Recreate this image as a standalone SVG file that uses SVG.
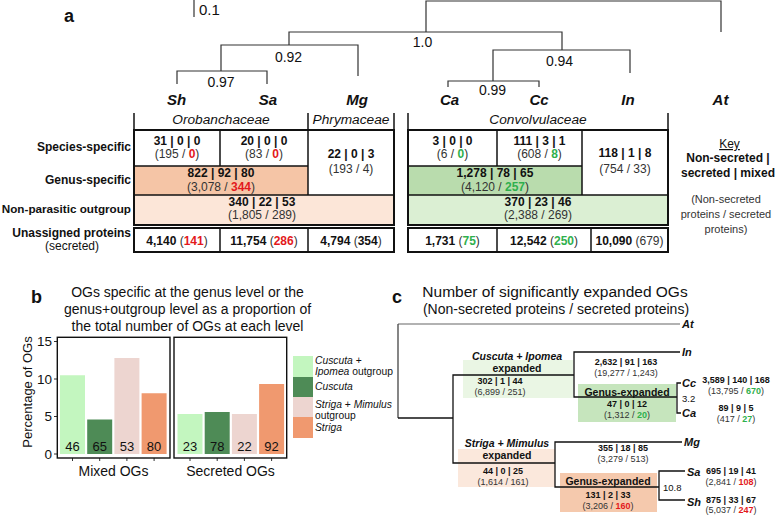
<svg xmlns="http://www.w3.org/2000/svg" width="778" height="515" viewBox="0 0 778 515">
<style>
text{font-family:"Liberation Sans",Arial,Helvetica,sans-serif;fill:#111}
.b{font-weight:bold}
.i{font-style:italic}
.n{font-weight:normal;font-style:normal}
.m{text-anchor:middle}
.e{text-anchor:end}
.red{fill:#e3191c;font-weight:bold}
.grn{fill:#2fb04d;font-weight:bold}
.gry{fill:#333}
.tree{stroke:#333;stroke-width:1.2;fill:none}
.ctree{stroke:#111;stroke-width:1.3;fill:none}
.tb{stroke:#111;stroke-width:2;fill:none}
.tl{stroke:#111;stroke-width:1.5;fill:none}
.lab{font-size:12px}
.cell{font-size:12px}
.sp{font-size:15px;font-weight:bold;font-style:italic}
.fam{font-size:13.7px;font-style:italic}
.bl{font-size:14px}
.cn{font-size:9px}
.cl{font-size:11px;font-weight:bold;font-style:italic}
.ch{font-size:10.5px;font-weight:bold}
.leg{font-size:10.3px}
.ax{stroke:#333;stroke-width:1;fill:none}
</style>

<!-- Panel letters -->
<text x="64" y="22" class="b" font-size="18">a</text>
<text x="31" y="303" class="b" font-size="18">b</text>
<text x="392" y="303" class="b" font-size="18">c</text>

<!-- ===== Panel a: tree ===== -->
<g id="scale-bar">
<line x1="194" y1="0" x2="194" y2="17" class="tree"/>
<text x="199" y="15" font-size="15">0.1</text>
</g>
<g id="tree-a-connectors" class="tree">
<path d="M426,32 V1 H721 V32"/>
<path d="M289,45 V32 H562 V50"/>
<path d="M221,71 V45 H358 V76"/>
<path d="M177,84 V71 H267 V84"/>
<path d="M493,81 V50 H630 V73"/>
<path d="M448,87 V81 H539 V87"/>
</g>
<g id="tree-a-support" class="bl">
<text x="422.5" y="46.5" class="m">1.0</text>
<text x="288.5" y="61.5" class="m">0.92</text>
<text x="221" y="87" class="m">0.97</text>
<text x="559.5" y="65.5" class="m">0.94</text>
<text x="492.5" y="94.5" class="m">0.99</text>
</g>
<g id="species-a">
<text x="176.5" y="105" class="sp m">Sh</text>
<text x="268" y="105" class="sp m">Sa</text>
<text x="357" y="105" class="sp m">Mg</text>
<text x="449.5" y="105" class="sp m">Ca</text>
<text x="539" y="105" class="sp m">Cc</text>
<text x="628" y="105" class="sp m">In</text>
<text x="720.5" y="105" class="sp m">At</text>
</g>
<g id="families">
<g class="tl">
<line x1="134" y1="113" x2="134" y2="130"/>
<line x1="308" y1="113" x2="308" y2="130"/>
<line x1="394" y1="113" x2="394" y2="130"/>
<line x1="408" y1="113" x2="408" y2="130"/>
<line x1="668" y1="113" x2="668" y2="130"/>
</g>
<text x="221" y="124" class="fam m">Orobanchaceae</text>
<text x="351" y="124" class="fam m" font-size="13.3">Phrymaceae</text>
<text x="538" y="124" class="fam m">Convolvulaceae</text>
</g>

<!-- Row labels -->
<g id="row-labels" class="lab b">
<text x="131" y="151" class="e">Species-specific</text>
<text x="131" y="184" class="e">Genus-specific</text>
<text x="131" y="213" class="e" font-size="11.7">Non-parasitic outgroup</text>
<text x="131" y="237" class="e">Unassigned proteins</text>
<text x="72" y="250" class="m n">(secreted)</text>
</g>

<!-- Left table -->
<g id="table-left">
<rect x="134" y="166" width="174" height="29" fill="#f5c5a6"/>
<rect x="134" y="195" width="260" height="30" fill="#fce6d8"/>
<rect x="134" y="130" width="260" height="95" class="tb"/>
<g class="tl">
<line x1="220" y1="130" x2="220" y2="166"/>
<line x1="134" y1="166" x2="308" y2="166"/>
<line x1="308" y1="130" x2="308" y2="195"/>
<line x1="134" y1="195" x2="394" y2="195"/>
</g>
<rect x="134" y="228" width="260" height="24" class="tb"/>
<g class="tl">
<line x1="220" y1="228" x2="220" y2="252"/>
<line x1="308" y1="228" x2="308" y2="252"/>
</g>
</g>
<g id="cell-sh" class="cell">
<text x="177" y="145" class="m b">31 | 0 | 0</text>
<text x="177" y="158" class="m gry">(195 / <tspan class="red">0</tspan>)</text>
</g>
<g id="cell-sa" class="cell">
<text x="264" y="145" class="m b">20 | 0 | 0</text>
<text x="264" y="158" class="m gry">(83 / <tspan class="red">0</tspan>)</text>
</g>
<g id="cell-mg" class="cell">
<text x="351" y="158" class="m b">22 | 0 | 3</text>
<text x="351" y="173" class="m gry">(193 / 4)</text>
</g>
<g id="cell-striga-genus" class="cell">
<text x="221" y="177" class="m b">822 | 92 | 80</text>
<text x="221" y="191" class="m gry">(3,078 / <tspan class="red">344</tspan>)</text>
</g>
<g id="cell-oro-outgroup" class="cell">
<text x="262" y="206" class="m b">340 | 22 | 53</text>
<text x="262" y="219" class="m gry">(1,805 / 289)</text>
</g>
<g id="unassigned-left" class="cell">
<text x="177" y="245" class="m"><tspan class="b">4,140</tspan><tspan class="gry"> (</tspan><tspan class="red">141</tspan><tspan class="gry">)</tspan></text>
<text x="264" y="245" class="m"><tspan class="b">11,754</tspan><tspan class="gry"> (</tspan><tspan class="red">286</tspan><tspan class="gry">)</tspan></text>
<text x="351" y="245" class="m"><tspan class="b">4,794</tspan><tspan class="gry"> (</tspan><tspan class="b">354</tspan><tspan class="gry">)</tspan></text>
</g>

<!-- Right table -->
<g id="table-right">
<rect x="408" y="166" width="174" height="29" fill="#b9dcad"/>
<rect x="408" y="195" width="260" height="30" fill="#dbefd3"/>
<rect x="408" y="130" width="260" height="95" class="tb"/>
<g class="tl">
<line x1="497" y1="130" x2="497" y2="166"/>
<line x1="408" y1="166" x2="582" y2="166"/>
<line x1="582" y1="130" x2="582" y2="195"/>
<line x1="408" y1="195" x2="668" y2="195"/>
</g>
<rect x="408" y="228" width="260" height="24" class="tb"/>
<g class="tl">
<line x1="497" y1="228" x2="497" y2="252"/>
<line x1="591" y1="228" x2="591" y2="252"/>
</g>
</g>
<g id="cell-ca" class="cell">
<text x="452.5" y="145" class="m b">3 | 0 | 0</text>
<text x="452.5" y="158" class="m gry">(6 / <tspan class="grn">0</tspan>)</text>
</g>
<g id="cell-cc" class="cell">
<text x="539.5" y="145" class="m b">111 | 3 | 1</text>
<text x="539.5" y="158" class="m gry">(608 / <tspan class="grn">8</tspan>)</text>
</g>
<g id="cell-in" class="cell">
<text x="625" y="157" class="m b">118 | 1 | 8</text>
<text x="625" y="173" class="m gry">(754 / 33)</text>
</g>
<g id="cell-cuscuta-genus" class="cell">
<text x="495" y="177" class="m b">1,278 | 78 | 65</text>
<text x="495" y="191" class="m gry">(4,120 / <tspan class="grn">257</tspan>)</text>
</g>
<g id="cell-conv-outgroup" class="cell">
<text x="538" y="206" class="m b">370 | 23 | 46</text>
<text x="538" y="219" class="m gry">(2,388 / 269)</text>
</g>
<g id="unassigned-right" class="cell">
<text x="452.5" y="245" class="m"><tspan class="b">1,731</tspan><tspan class="gry"> (</tspan><tspan class="grn">75</tspan><tspan class="gry">)</tspan></text>
<text x="544" y="245" class="m"><tspan class="b">12,542</tspan><tspan class="gry"> (</tspan><tspan class="grn">250</tspan><tspan class="gry">)</tspan></text>
<text x="629.5" y="245" class="m"><tspan class="b">10,090</tspan><tspan class="gry"> (679)</tspan></text>
</g>

<!-- Key -->
<g id="key">
<text x="729.5" y="148" class="m" font-size="12" text-decoration="underline">Key</text>
<text x="728" y="162" class="m b" font-size="12">Non-secreted |</text>
<text x="728" y="177" class="m b" font-size="12">secreted | mixed</text>
<text x="726" y="203" class="m gry" font-size="11">(Non-secreted</text>
<text x="726" y="218" class="m gry" font-size="11">proteins / secreted</text>
<text x="726" y="233" class="m gry" font-size="11">proteins)</text>
</g>

<!-- ===== Panel b ===== -->
<g id="b-title" class="bl">
<text x="187.5" y="297" class="m">OGs specific at the genus level or the</text>
<text x="187.5" y="314" class="m">genus+outgroup level as a proportion of</text>
<text x="187.5" y="331" class="m">the total number of OGs at each level</text>
</g>
<g id="b-axes">
<text transform="translate(32,392) rotate(-90)" class="m" font-size="13">Percentage of OGs</text>
<g font-size="13.5">
<text x="52" y="346" class="e">15</text>
<text x="52" y="383.5" class="e">10</text>
<text x="52" y="421" class="e">5</text>
<text x="52" y="458.5" class="e">0</text>
</g>
<g class="ax">
<line x1="54" y1="341.5" x2="57" y2="341.5"/>
<line x1="54" y1="379" x2="57" y2="379"/>
<line x1="54" y1="416.5" x2="57" y2="416.5"/>
<line x1="54" y1="454" x2="57" y2="454"/>
<line x1="72.5" y1="458" x2="72.5" y2="461"/>
<line x1="99.7" y1="458" x2="99.7" y2="461"/>
<line x1="126.9" y1="458" x2="126.9" y2="461"/>
<line x1="154.1" y1="458" x2="154.1" y2="461"/>
<line x1="190" y1="458" x2="190" y2="461"/>
<line x1="217.2" y1="458" x2="217.2" y2="461"/>
<line x1="244.4" y1="458" x2="244.4" y2="461"/>
<line x1="271.6" y1="458" x2="271.6" y2="461"/>
</g>
<text x="113.5" y="476" class="m" font-size="14">Mixed OGs</text>
<text x="230.5" y="476" class="m" font-size="14">Secreted OGs</text>
</g>
<g id="b-bars-mixed">
<rect x="60" y="375.25" width="25" height="78.75" fill="#c3f6bf"/>
<rect x="87.2" y="419.5" width="25" height="34.5" fill="#4e8b56"/>
<rect x="114.4" y="358" width="25" height="96" fill="#edd5d0"/>
<rect x="141.6" y="393.25" width="25" height="60.75" fill="#f0996f"/>
<g font-size="13">
<text x="72.5" y="451" class="m">46</text>
<text x="99.7" y="451" class="m">65</text>
<text x="126.9" y="451" class="m">53</text>
<text x="154.1" y="451" class="m">80</text>
</g>
<rect x="57.3" y="337.3" width="112.7" height="120.7" fill="none" stroke="#111" stroke-width="1.4"/>
</g>
<g id="b-bars-secreted">
<rect x="177.5" y="414" width="25" height="40" fill="#c3f6bf"/>
<rect x="204.7" y="412" width="25" height="42" fill="#4e8b56"/>
<rect x="231.9" y="414" width="25" height="40" fill="#edd5d0"/>
<rect x="259.1" y="384" width="25" height="70" fill="#f0996f"/>
<g font-size="13">
<text x="190" y="451" class="m">23</text>
<text x="217.2" y="451" class="m">78</text>
<text x="244.4" y="451" class="m">22</text>
<text x="271.6" y="451" class="m">92</text>
</g>
<rect x="174" y="337.3" width="112.7" height="120.7" fill="none" stroke="#111" stroke-width="1.4"/>
</g>
<g id="b-legend" class="leg">
<rect x="293" y="356" width="20" height="21" fill="#c3f6bf"/>
<rect x="293" y="377" width="20" height="20" fill="#4e8b56"/>
<rect x="293" y="397" width="20" height="20" fill="#edd5d0"/>
<rect x="293" y="417" width="20" height="21" fill="#f0996f"/>
<text x="315" y="363.5"><tspan class="i">Cuscuta</tspan> +</text>
<text x="315" y="375"><tspan class="i">Ipomea</tspan> outgroup</text>
<text x="315" y="390" class="i">Cuscuta</text>
<text x="315" y="407.5"><tspan class="i">Striga</tspan> + <tspan class="i">Mimulus</tspan></text>
<text x="315" y="419">outgroup</text>
<text x="315" y="431" class="i">Striga</text>
</g>

<!-- ===== Panel c ===== -->
<g id="c-title">
<text x="555" y="297" class="m" font-size="15.5">Number of significantly expanded OGs</text>
<text x="556" y="314" class="m" font-size="14">(Non-secreted proteins / secreted proteins)</text>
</g>
<g id="c-shading">
<rect x="463" y="360" width="110" height="38" fill="#eaf6e4"/>
<rect x="578" y="384" width="98" height="38" fill="#c6e5bd"/>
<rect x="458" y="449" width="97" height="38" fill="#fbe8dc"/>
<rect x="560" y="473" width="97" height="39" fill="#f5c9ad"/>
</g>
<g id="c-tree-connectors" class="ctree">
<path d="M680,324 H398" stroke="#999"/>
<path d="M398,324 V418" stroke="#444"/>
<path d="M398,418 H453"/>
<path d="M574,375 H453 V463 H555"/>
<path d="M680,352 H574 V397 H677"/>
<path d="M681,383 H677 V413 H681"/>
<path d="M682,442 H555 V487 H659"/>
<path d="M685,471 H659 V500 H685"/>
</g>
<g id="c-tips">
<text x="682" y="328" class="cl">At</text>
<text x="682" y="356" class="cl">In</text>
<text x="682" y="387" class="cl">Cc</text>
<text x="682" y="417" class="cl">Ca</text>
<text x="684" y="446" class="cl">Mg</text>
<text x="687" y="476" class="cl">Sa</text>
<text x="687" y="506" class="cl">Sh</text>
<text x="682" y="402" font-size="9.5">3.2</text>
<text x="663" y="491" font-size="9.5">10.8</text>
</g>
<g id="c-cuscuta-ipomea">
<text x="517" y="359.5" class="ch i m">Cuscuta + Ipomea</text>
<text x="517" y="372" class="ch m">expanded</text>
<text x="500" y="384" class="cn b m">302 | 1 | 44</text>
<text x="500" y="394.5" class="cn m gry">(6,899 / 251)</text>
</g>
<g id="c-in">
<text x="626" y="365" class="cn b m">2,632 | 91 | 163</text>
<text x="626" y="375.5" class="cn m gry">(19,277 / 1,243)</text>
</g>
<g id="c-cuscuta-genus">
<text x="627" y="395.5" class="ch m">Genus-expanded</text>
<text x="627" y="406.5" class="cn b m">47 | 0 | 12</text>
<text x="627" y="417.5" class="cn m gry">(1,312 / <tspan class="grn">20</tspan>)</text>
</g>
<g id="c-cc">
<text x="736" y="383" class="cn b m">3,589 | 140 | 168</text>
<text x="736" y="394" class="cn m gry">(13,795 / <tspan class="grn">670</tspan>)</text>
</g>
<g id="c-ca">
<text x="736" y="411" class="cn b m">89 | 9 | 5</text>
<text x="736" y="422" class="cn m gry">(417 / <tspan class="grn">27</tspan>)</text>
</g>
<g id="c-striga-mimulus">
<text x="507" y="446.5" class="ch i m">Striga + Mimulus</text>
<text x="507" y="458.5" class="ch m">expanded</text>
<text x="503" y="474" class="cn b m">44 | 0 | 25</text>
<text x="503" y="484.5" class="cn m gry">(1,614 / 161)</text>
</g>
<g id="c-mg">
<text x="623" y="451" class="cn b m">355 | 18 | 85</text>
<text x="623" y="461.5" class="cn m gry">(3,279 / 513)</text>
</g>
<g id="c-striga-genus">
<text x="608" y="484.5" class="ch m">Genus-expanded</text>
<text x="608" y="497.5" class="cn b m">131 | 2 | 33</text>
<text x="608" y="508.5" class="cn m gry">(3,206 / <tspan class="red">160</tspan>)</text>
</g>
<g id="c-sa">
<text x="731" y="474" class="cn b m">695 | 19 | 41</text>
<text x="731" y="484.5" class="cn m gry">(2,841 / <tspan class="red">108</tspan>)</text>
</g>
<g id="c-sh">
<text x="731" y="502.5" class="cn b m">875 | 33 | 67</text>
<text x="731" y="513" class="cn m gry">(5,037 / <tspan class="red">247</tspan>)</text>
</g>
</svg>
